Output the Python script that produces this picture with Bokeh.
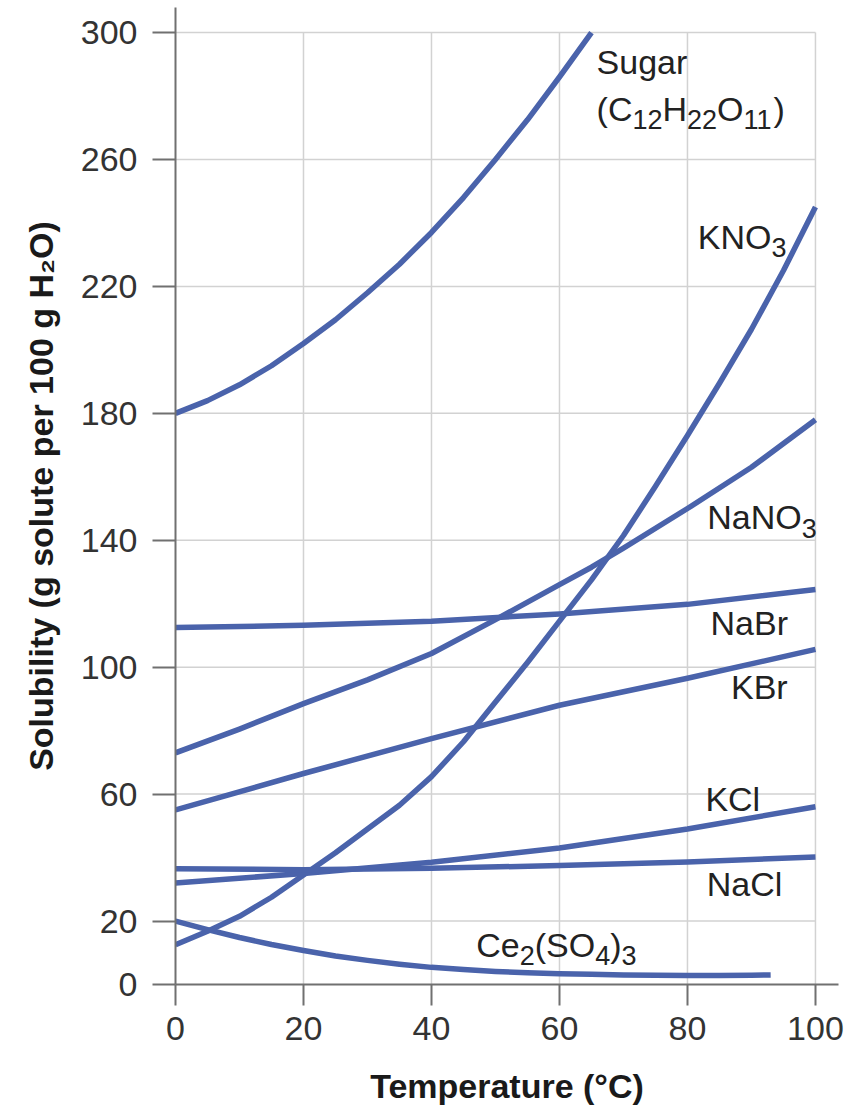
from bokeh.plotting import figure
from bokeh.models import FixedTicker, ColumnDataSource, Range1d
from bokeh.core.properties import value
from bokeh.embed import file_html
from bokeh.resources import INLINE

# ---------------- data ----------------
sugar_t = [0, 5, 10, 15, 20, 25, 30, 35, 40, 45, 50, 55, 60, 65]
sugar_s = [180, 184, 189, 195, 202, 209.5, 218, 227, 237, 248,
           260, 272.5, 286, 300]

kno3_t = [0, 5, 10, 15, 20, 25, 30, 35, 40, 45, 50, 55, 60, 65, 70, 75,
          80, 85, 90, 95, 100]
kno3_s = [12.5, 16.8, 21.5, 27.5, 34.5, 41.5, 49, 56.5, 65.5, 76.5, 89,
          101.5, 114.5, 127.5, 141.5, 157, 173, 189.5, 206.5, 225, 245]

nano3_t = [0, 10, 20, 30, 40, 50, 60, 65, 70, 80, 90, 100]
nano3_s = [73, 80.5, 88.5, 96, 104.3, 115, 126, 131.5, 137.5, 150, 163, 178]

t20 = [0, 20, 40, 60, 80, 100]
nabr_s = [112.5, 113.2, 114.5, 116.8, 119.8, 124.5]
kbr_s = [55, 66.5, 77.5, 88, 96.5, 105.6]
kcl_s = [32, 35, 38.5, 43, 49, 56]
nacl_s = [36.5, 36.2, 36.6, 37.5, 38.6, 40.2]

ce_t = [0, 5, 10, 15, 20, 25, 30, 35, 40, 45, 50, 55, 60, 65, 70, 75, 80,
        85, 90, 93]
ce_s = [20, 17.3, 14.8, 12.6, 10.7, 9.0, 7.6, 6.4, 5.4, 4.7, 4.1, 3.7, 3.4,
        3.2, 3.0, 2.9, 2.8, 2.8, 2.9, 3.0]

x_ticks = [0, 20, 40, 60, 80, 100]
y_ticks = [0, 20, 60, 100, 140, 180, 220, 260, 300]

# labels: (x, y, [(text, is_subscript), ...])
labels = [
    (65.8, 287.2, [("Sugar", False)]),
    (65.8, 272.6, [("(C", False), ("12", True), ("H", False), ("22", True),
                   ("O", False), ("11", True), (")", False)]),
    (81.6, 232.2, [("KNO", False), ("3", True)]),
    (83.1, 143.8, [("NaNO", False), ("3", True)]),
    (83.6, 110.6, [("NaBr", False)]),
    (86.8, 90.4, [("KBr", False)]),
    (82.8, 54.9, [("KCl", False)]),
    (83.0, 28.1, [("NaCl", False)]),
    (47.0, 9.1, [("Ce", False), ("2", True), ("(SO", False), ("4", True),
                 (")", False), ("3", True)]),
]

# ---------------- style ----------------
BLUE = "#4a63ab"
FONT = "Liberation Sans"
MAIN = 34
SUB = 27
SUB_DROP = 11
BASE_SHIFT = -11

# Liberation Sans advance widths (em)
W = {"(": .333, ")": .333, "C": .722, "H": .722, "O": .778, "K": .667,
     "N": .722, "a": .556, "B": .667, "r": .333, "l": .222, "S": .667,
     "u": .556, "g": .556, "e": .556}
for d in "0123456789":
    W[d] = .556


def tw(s, size):
    return sum(W.get(c, .556) for c in s) * size


p = figure(frame_width=663, frame_height=977,
           x_range=Range1d(0, 103.6), y_range=Range1d(0, 307.9),
           output_backend="svg", toolbar_location=None,
           min_border_left=175, min_border_right=26,
           min_border_top=7, min_border_bottom=124,
           background_fill_color="white", border_fill_color="white")
p.outline_line_color = None
p.xgrid.visible = False
p.ygrid.visible = False

# grid lines (from tick lists), limited to the 0..100 x 0..300 box
gx = [t for t in x_ticks if t > 0]
gy = [t for t in y_ticks if t > 0]
GRID = "#d2d2d2"
p.segment(x0=gx, y0=[0] * len(gx), x1=gx, y1=[max(y_ticks)] * len(gx),
          line_color=GRID, line_width=1.5)
p.segment(x0=[0] * len(gy), y0=gy, x1=[max(x_ticks)] * len(gy), y1=gy,
          line_color=GRID, line_width=1.5)

# curves
series = [
    (sugar_t, sugar_s), (kno3_t, kno3_s), (nano3_t, nano3_s),
    (t20, nabr_s), (t20, kbr_s), (t20, kcl_s), (t20, nacl_s), (ce_t, ce_s),
]
for xs, ys in series:
    p.line(xs, ys, line_color=BLUE, line_width=5.5, line_join="round")

# labels with subscripts
lx, ly, lt, lsz, lxo, lyo = [], [], [], [], [], []
for x, y, parts in labels:
    off = 0.0
    for txt, sub in parts:
        size = SUB if sub else MAIN
        lx.append(x)
        ly.append(y)
        lt.append(txt)
        lsz.append(f"{size}px")
        lxo.append(off)
        lyo.append(BASE_SHIFT + (SUB_DROP if sub else 0))
        off += tw(txt, size)
src = ColumnDataSource(dict(x=lx, y=ly, text=lt, size=lsz, xo=lxo, yo=lyo))
p.text(x="x", y="y", text="text", source=src, text_font=value(FONT),
       text_font_size="size", x_offset="xo", y_offset="yo",
       text_color="#222222", text_align="left", text_baseline="alphabetic")

# axes
for ax in (p.xaxis[0], p.yaxis[0]):
    ax.axis_line_color = "#707070"
    ax.axis_line_width = 2
    ax.major_tick_line_color = "#707070"
    ax.major_tick_line_width = 2
    ax.major_tick_in = 0
    ax.minor_tick_line_color = None
    ax.major_label_text_font = FONT
    ax.major_label_text_font_size = "34px"
    ax.major_label_text_color = "#333333"
    ax.axis_label_text_font = FONT
    ax.axis_label_text_font_size = "34px"
    ax.axis_label_text_font_style = "bold"
    ax.axis_label_text_color = "#1a1a1a"

p.xaxis.ticker = FixedTicker(ticks=x_ticks)
p.yaxis.ticker = FixedTicker(ticks=y_ticks)
p.xaxis.major_tick_out = 21
p.yaxis.major_tick_out = 23
p.xaxis.major_label_standoff = 11
p.yaxis.major_label_standoff = 15
p.xaxis.axis_label = "Temperature (°C)"
p.yaxis.axis_label = "Solubility (g solute per 100 g H₂O)"
p.xaxis.axis_label_standoff = 24
p.yaxis.axis_label_standoff = 18

open("out.html", "w").write(file_html(p, INLINE))
